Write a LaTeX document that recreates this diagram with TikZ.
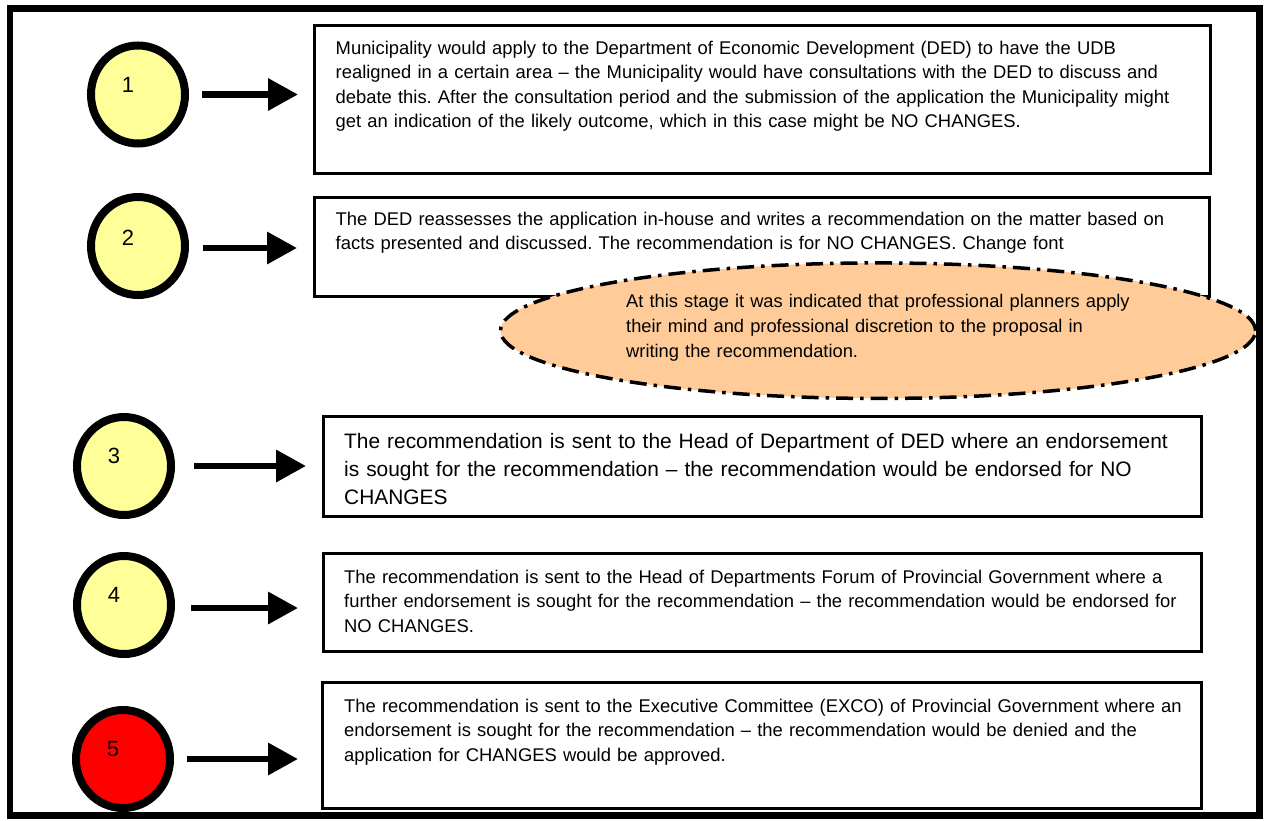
\documentclass[tikz,border=0pt]{standalone}
\usepackage{fontspec}
\setmainfont{Liberation Sans}
\usetikzlibrary{arrows.meta,shapes.geometric}
\definecolor{circyellow}{HTML}{FFFF99}
\definecolor{circred}{HTML}{FF0000}
\definecolor{peach}{HTML}{FFCC99}
\newcommand{\txtA}{\fontsize{18.4}{24.4}\selectfont}
\newcommand{\txtB}{\fontsize{20.9}{28}\selectfont}
\newcommand{\txtC}{\fontsize{18.3}{25}\selectfont}
\newcommand{\numfnt}{\fontsize{22}{26}\selectfont}
\frenchspacing
\begin{document}
\begin{tikzpicture}[x=1pt,y=-1pt,
  stepcirc/.style={ellipse, draw, line width=8pt, minimum width=94pt, minimum height=98pt, outer sep=0pt, inner sep=0pt},
  boxnode/.style={draw, line width=3pt, outer sep=0pt, inner sep=0pt, anchor=north west},
  txt/.style={anchor=base west, inner sep=0pt, align=left, text width=880pt, font=\txtA},
  arr/.style={line width=6.5pt, -{Triangle[length=30pt,width=31pt]}},
  num/.style={font=\numfnt, inner sep=0pt}]
\useasboundingbox (0,0) rectangle (1268,820);
\fill[white] (0,0) rectangle (1268,820);
\draw[line width=6.5pt] (10,8.5) rectangle (1259.5,815.5);

% boxes
\node[boxnode, minimum width=895.5pt, minimum height=148.5pt] (b1) at (314.5,25) {};
\node[boxnode, minimum width=895.5pt, minimum height=98.5pt] (b2) at (314,197.5) {};
\node[boxnode, minimum width=878pt, minimum height=99.5pt] (b3) at (323,416.7) {};
\node[boxnode, minimum width=878pt, minimum height=98.2pt] (b4) at (323,553.3) {};
\node[boxnode, minimum width=878.7pt, minimum height=125.7pt] (b5) at (322.3,682.3) {};

% circles
\node[stepcirc, fill=circyellow] (c1) at (138,94.5) {};
\node[stepcirc, fill=circyellow] (c2) at (138,246) {};
\node[stepcirc, fill=circyellow] (c3) at (124,466) {};
\node[stepcirc, fill=circyellow] (c4) at (124,605) {};
\node[stepcirc, fill=circred] (c5) at (123,759) {};
\node[num] (n1) at ([shift={(-10,-10)}]c1.center) {1};
\node[num] (n2) at ([shift={(-10,-8)}]c2.center) {2};
\node[num] (n3) at ([shift={(-10,-10)}]c3.center) {3};
\node[num] (n4) at ([shift={(-10,-10)}]c4.center) {4};
\node[num] (n5) at ([shift={(-10,-10)}]c5.center) {5};

% arrows
\draw[arr, shorten <=17pt, shorten >=16.5pt] (c1.east) -- (c1.east -| b1.west);
\draw[arr, shorten <=18pt, shorten >=17pt] ([yshift=-2pt]c2.east) -- ([yshift=-2pt]c2.east -| b2.west);
\draw[arr, shorten <=23pt, shorten >=17pt] (c3.east) -- (c3.east -| b3.west);
\draw[arr, shorten <=20pt, shorten >=25pt] ([yshift=-3pt]c4.east) -- ([yshift=-3pt]c4.east -| b4.west);
\draw[arr, shorten <=17pt, shorten >=24.3pt] (c5.east) -- (c5.east -| b5.west);

% texts
\node[txt] (t1) at (335.5,54.5) {Municipality would apply to the Department of Economic Development (DED) to have the UDB\\
realigned in a certain area – the Municipality would have consultations with the DED to discuss and\\
debate this. After the consultation period and the submission of the application the Municipality might\\
get an indication of the likely outcome, which in this case might be NO CHANGES.};
\node[txt] (t2) at (335.5,225.5) {The DED reassesses the application in-house and writes a recommendation on the matter based on\\
facts presented and discussed. The recommendation is for NO CHANGES. Change font};

% ellipse note
\node[ellipse, draw, fill=peach, line width=3.5pt, dash pattern=on 17pt off 7pt on 3.5pt off 7pt,
  minimum width=755pt, minimum height=135.5pt, inner sep=0pt, outer sep=0pt] (e) at (878,330.7) {};
\node[txt, font=\txtC, text width=560pt] (et) at (626,307.5) {At this stage it was indicated that professional planners apply\\
their mind and professional discretion to the proposal in\\
writing the recommendation.};

\node[txt, font=\txtB] (t3) at (344,448) {The recommendation is sent to the Head of Department of DED where an endorsement\\
is sought for the recommendation – the recommendation would be endorsed for NO\\
CHANGES};
\node[txt] (t4) at (344,583.5) {The recommendation is sent to the Head of Departments Forum of Provincial Government where a\\
further endorsement is sought for the recommendation – the recommendation would be endorsed for\\
NO CHANGES.};
\node[txt] (t5) at (344,712.5) {The recommendation is sent to the Executive Committee (EXCO) of Provincial Government where an\\
endorsement is sought for the recommendation – the recommendation would be denied and the\\
application for CHANGES would be approved.};
\end{tikzpicture}
\end{document}
